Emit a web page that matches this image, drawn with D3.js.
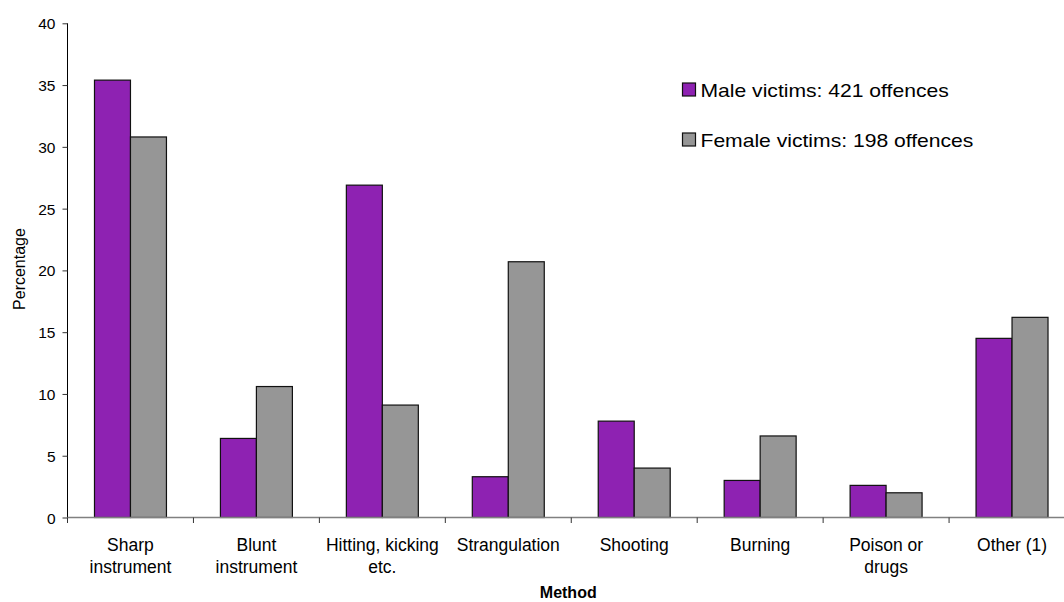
<!DOCTYPE html>
<html>
<head>
<meta charset="utf-8">
<script src="https://cdn.jsdelivr.net/npm/d3@7"></script>
<style>
  html, body { margin: 0; padding: 0; background: #fff; }
  svg { display: block; font-family: "Liberation Sans", Arial, sans-serif; }
</style>
</head>
<body>
<svg id="chart" width="1064" height="602"></svg>
<script>
// ---- data ----
const categories = [
  ["Sharp", "instrument"],
  ["Blunt", "instrument"],
  ["Hitting, kicking", "etc."],
  ["Strangulation"],
  ["Shooting"],
  ["Burning"],
  ["Poison or", "drugs"],
  ["Other (1)"]
];
const seriesNames = ["Male victims: 421 offences", "Female victims: 198 offences"];
const maleValues   = [35.4, 6.4, 26.9, 3.3, 7.8, 3.0, 2.6, 14.5];
const femaleValues = [30.8, 10.6, 9.1, 20.7, 4.0, 6.6, 2.0, 16.2];
const yTicks = [0, 5, 10, 15, 20, 25, 30, 35, 40];
const colors = ["#8E22B2", "#969696"];

// ---- layout ----
const svg = d3.select("#chart");
const plotLeft = 67.5, plotRight = 1075, plotTop = 23.3, plotBottom = 517.5;

const catKeys = categories.map(c => c.join(" "));
const x = d3.scaleBand().domain(catKeys).range([plotLeft, plotRight]).paddingInner(0).paddingOuter(0);
const xs = d3.scaleBand().domain([0, 1]).range([0, x.bandwidth()]).paddingInner(0).paddingOuter(0.75);
const y = d3.scaleLinear().domain([0, 40]).range([plotBottom, plotTop]);

const series = [maleValues, femaleValues];
const rows = catKeys.map((k, i) => ({ key: k, vals: series.map(s => s[i]) }));

// bars
const g = svg.append("g");
const grp = g.selectAll("g.cat").data(rows).join("g")
  .attr("transform", d => `translate(${x(d.key)},0)`);
grp.selectAll("rect").data(d => d.vals.map((v, j) => ({ v, j }))).join("rect")
  .attr("x", d => xs(d.j))
  .attr("width", xs.bandwidth())
  .attr("y", d => y(d.v))
  .attr("height", d => y(0) - y(d.v))
  .attr("fill", d => colors[d.j])
  .attr("stroke", "#111")
  .attr("stroke-width", 1.2);

// y axis
const yAxis = svg.append("g")
  .attr("transform", `translate(${plotLeft},0)`)
  .call(d3.axisLeft(y).tickValues(yTicks).tickSize(5).tickPadding(7).tickSizeOuter(0));
yAxis.select(".domain").attr("stroke", "#000").attr("stroke-width", 1)
  .attr("d", `M0,${plotTop}V${plotBottom}`);
yAxis.selectAll(".tick line").attr("stroke", "#333");
yAxis.selectAll(".tick text")
  .attr("font-size", 15.5)
  .attr("fill", "#000")
  .attr("font-family", "Liberation Sans, Arial, sans-serif")
  .attr("x", -12)
  .attr("dy", "0.36em");

// x axis baseline
svg.append("line")
  .attr("x1", plotLeft).attr("x2", 1064)
  .attr("y1", plotBottom).attr("y2", plotBottom)
  .attr("stroke", "#808080").attr("stroke-width", 1.5);
// x ticks at band boundaries
const boundaries = catKeys.map(k => x(k)).concat([plotRight]);
svg.selectAll("line.xt").data(boundaries).join("line")
  .attr("class", "xt")
  .attr("x1", d => d).attr("x2", d => d)
  .attr("y1", plotBottom).attr("y2", plotBottom + 5.5)
  .attr("stroke", "#333").attr("stroke-width", 1);

// category labels
const labels = svg.selectAll("text.cat").data(categories).join("text")
  .attr("class", "cat")
  .attr("text-anchor", "middle")
  .attr("font-size", 17.5)
  .attr("fill", "#000");
labels.each(function(lines, i) {
  const cx = x(catKeys[i]) + x.bandwidth() / 2;
  d3.select(this).selectAll("tspan").data(lines).join("tspan")
    .attr("x", cx)
    .attr("y", (d, j) => 550.5 + j * 22.6)
    .text(d => d);
});

// axis titles
svg.append("text")
  .attr("x", (plotLeft + plotRight) / 2 - 3)
  .attr("y", 597.5)
  .attr("text-anchor", "middle")
  .attr("font-size", 16)
  .attr("font-weight", "bold")
  .text("Method");

svg.append("text")
  .attr("transform", "translate(24.5,269) rotate(-90)")
  .attr("text-anchor", "middle")
  .attr("font-size", 16)
  .text("Percentage");

// legend
const legend = svg.append("g");
seriesNames.forEach((name, i) => {
  const yy = 83 + i * 50;
  legend.append("rect")
    .attr("x", 682.5).attr("y", yy)
    .attr("width", 13).attr("height", 13)
    .attr("fill", colors[i])
    .attr("stroke", "#111").attr("stroke-width", 1.2);
  legend.append("text")
    .attr("transform", `translate(700.5,${yy + 13.5}) scale(1.2,1)`)
    .attr("font-size", 17.6)
    .attr("fill", "#000")
    .text(name);
});
</script>
</body>
</html>
